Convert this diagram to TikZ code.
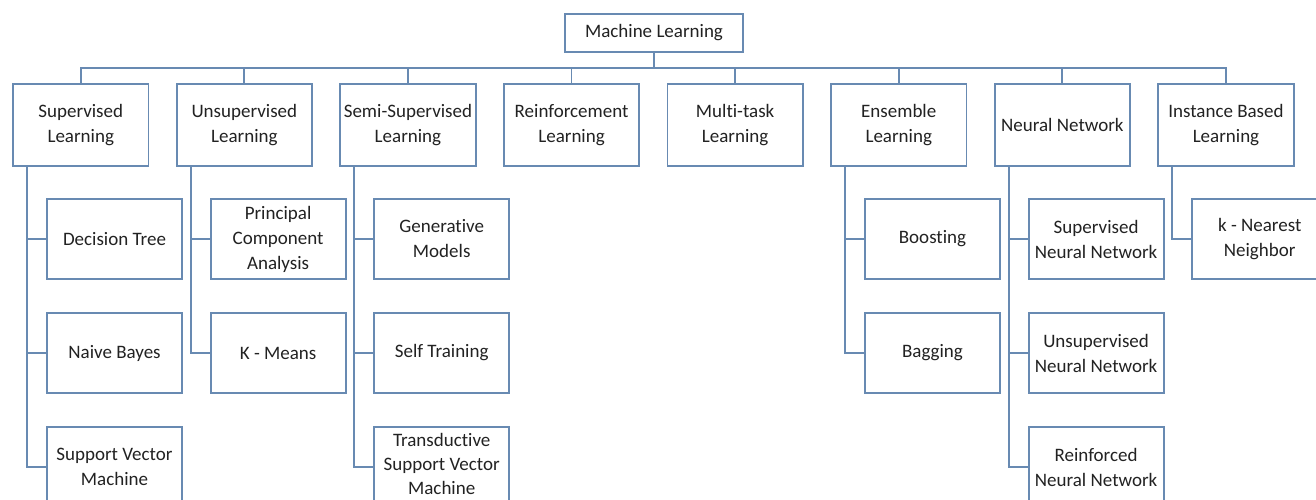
\documentclass[tikz,border=0pt]{standalone}
\usepackage{fontspec}
\setmainfont{Carlito}[Ligatures=NoCommon]
\definecolor{lineblue}{RGB}{104,138,178}
\definecolor{txt}{RGB}{34,34,34}
\begin{document}
\begin{tikzpicture}[x=1pt,y=-1pt,
  box/.style={draw=lineblue,line width=1.8pt,fill=white,align=center,inner sep=0pt,
    text=txt,font=\fontsize{19}{25}\selectfont},
  topbox/.style={box,minimum width=178pt,minimum height=38pt},
  lvla/.style={box,minimum width=135.5pt,minimum height=82pt},
  lvlb/.style={box,minimum width=135pt,minimum height=80pt},
  lbl/.style={align=center,inner sep=0pt,text=txt,font=\fontsize{19}{24}\selectfont},
  conn/.style={draw=lineblue,line width=1.8pt}]
\useasboundingbox (0,0) rectangle (1316,500);
\clip (0,0) rectangle (1316,500);
% top
\node[topbox] (ml) at (654,33) {Machine Learning};
\coordinate (bus) at (654,68);
% level 1
\node[lvla] (s1) at (80.75,125) {Supervised\\Learning};
\node[lvla] (s2) at (244.35,125) {Unsupervised\\Learning};
\node[lvla] (s3) at (407.95,125) {Semi-Supervised\\Learning};
\node[lvla] (s4) at (571.55,125) {Reinforcement\\Learning};
\node[lvla] (s5) at (735.15,125) {Multi-task\\Learning};
\node[lvla] (s6) at (898.75,125) {Ensemble\\Learning};
\node[lvla] (s7) at (1062.35,125) {Neural Network};
\node[lvla] (s8) at (1225.95,125) {Instance Based\\Learning};
\draw[conn] (ml.south) -- (bus);
\foreach \n in {s1,s2,s3,s4,s5,s6,s7,s8}{\draw[conn] (bus) -| (\n.north);}
% level 2 : supervised
\node[lvlb] (dt) at (114.5,239) {Decision Tree};
\node[lvlb] (nb) at (114.5,353) {Naive Bayes};
\node[lvlb] (svm) at (114.5,467) {Support Vector\\Machine};
% unsupervised
\node[lvlb] (pca) at (278.1,239) {Principal\\Component\\Analysis};
\node[lvlb] (km) at (278.1,353) {K - Means};
% semi-supervised
\node[lvlb] (gm) at (441.7,239) {Generative\\Models};
\node[lvlb] (st) at (441.7,353) {Self Training};
\node[lvlb] (tsvm) at (441.7,467) {};
\node[lbl] (tsvmtext) at (441.7,464) {Transductive\\Support Vector\\Machine};
% ensemble
\node[lvlb] (bo) at (932.5,239) {Boosting};
\node[lvlb] (ba) at (932.5,353) {Bagging};
% neural network
\node[lvlb] (snn) at (1096.1,239) {Supervised\\Neural Network};
\node[lvlb] (unn) at (1096.1,353) {Unsupervised\\Neural Network};
\node[lvlb] (rnn) at (1096.1,467) {Reinforced\\Neural Network};
% instance based
\node[lvlb] (knn) at (1259.7,239) {k - Nearest\\Neighbor};
% connectors level 2
\foreach \p/\c in {s1/dt,s1/nb,s1/svm,s2/pca,s2/km,s3/gm,s3/st,s3/tsvm,s6/bo,s6/ba,s7/snn,s7/unn,s7/rnn,s8/knn}
  {\draw[conn] ([xshift=15pt]\p.south west) |- (\c.west);}
\end{tikzpicture}
\end{document}
